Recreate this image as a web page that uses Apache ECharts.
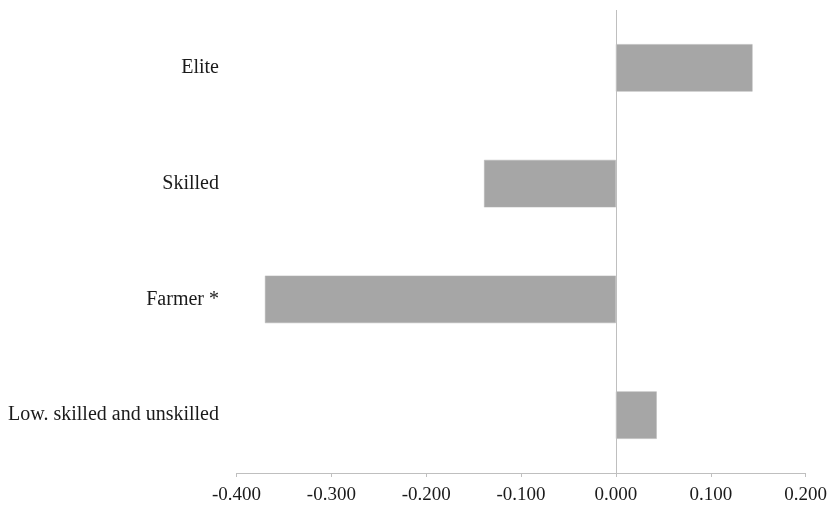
<!DOCTYPE html>
<html>
<head>
<meta charset="utf-8">
<script src="https://cdn.jsdelivr.net/npm/echarts@6/dist/echarts.min.js"></script>
<style>
  html, body { margin: 0; padding: 0; background: #fff; }
  #chart { width: 830px; height: 508px; }
</style>
</head>
<body>
<div id="chart"></div>
<script>
const categories = ["Elite", "Skilled", "Farmer *", "Low. skilled and unskilled"];
const values = [0.144, -0.139, -0.370, 0.043];
const xTickLabels = ["-0.400", "-0.300", "-0.200", "-0.100", "0.000", "0.100", "0.200"];
const xMin = -0.4, xMax = 0.2, xStep = 0.1;

const chart = echarts.init(document.getElementById('chart'), null, { renderer: 'canvas' });
const font = '"Liberation Serif", "Times New Roman", serif';

chart.setOption({
  animation: false,
  backgroundColor: '#ffffff',
  grid: { left: 236.5, right: 18.5, top: 10, bottom: 35, containLabel: false },
  xAxis: {
    type: 'value',
    min: xMin, max: xMax, interval: xStep,
    axisLine: { show: true, onZero: false, lineStyle: { color: '#bfbfbf', width: 1 } },
    axisTick: { show: true, length: 4, lineStyle: { color: '#bfbfbf', width: 1 } },
    splitLine: { show: false },
    axisLabel: {
      margin: 13,
      fontFamily: font, fontSize: 19, color: '#1a1a1a',
      formatter: function (v) {
        const idx = Math.round((v - xMin) / xStep);
        return xTickLabels[idx] !== undefined ? xTickLabels[idx] : v.toFixed(3);
      }
    }
  },
  yAxis: {
    type: 'category',
    data: categories,
    inverse: true,
    axisLine: { show: false },
    axisTick: { show: false },
    splitLine: { show: false },
    axisLabel: { margin: 17.5, fontFamily: font, fontSize: 20, color: '#1a1a1a' }
  },
  series: [{
    type: 'bar',
    data: values,
    barCategoryGap: '59%',
    itemStyle: { color: '#a6a6a6', borderColor: '#b4b4b4', borderWidth: 0.5 },
    markLine: {
      silent: true,
      symbol: 'none',
      label: { show: false },
      lineStyle: { color: '#bfbfbf', width: 1, type: 'solid' },
      data: [{ xAxis: 0 }]
    }
  }]
});
</script>
</body>
</html>
